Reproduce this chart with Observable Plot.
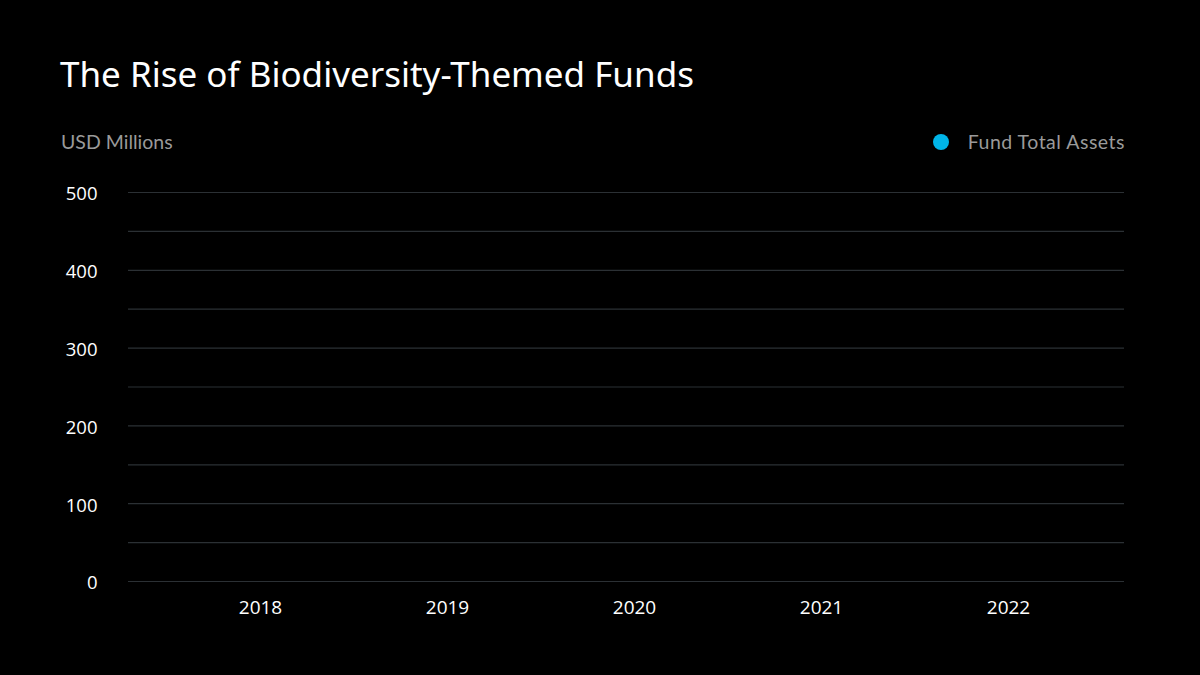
<!DOCTYPE html>
<html>
<head>
<meta charset="utf-8">
<script src="https://cdn.jsdelivr.net/npm/d3@7"></script>
<script src="https://cdn.jsdelivr.net/npm/@observablehq/plot@0.6"></script>
<style>
  html, body { margin: 0; padding: 0; background: #000; }
  #wrap { position: relative; width: 1200px; height: 675px; background: #000; overflow: hidden; }
  #header { position: relative; width: 1200px; height: 170px; }
  #title { position: absolute; left: 60px; top: 50px; font-family: "Noto Sans", sans-serif; font-size: 35px; color: #fff; font-weight: 400; white-space: nowrap; }
  #unit { position: absolute; left: 61px; top: 130px; font-family: Lato, sans-serif; font-size: 19.5px; color: #9a9a9a; white-space: nowrap; }
  #legend { position: absolute; right: 75px; top: 130px; font-family: Lato, sans-serif; font-size: 19.5px; letter-spacing: 0.5px; color: #9a9a9a; white-space: nowrap; display: flex; align-items: center; }
  #legend .dot { display: inline-block; width: 16px; height: 16px; border-radius: 50%; margin-right: 19px; }
</style>
</head>
<body>
<div id="wrap">
  <div id="header">
    <div id="title">The Rise of Biodiversity-Themed Funds</div>
    <div id="unit">USD Millions</div>
    <div id="legend"><span class="dot" id="legendDot"></span><span id="legendLabel"></span></div>
  </div>
  <div id="chart"></div>
</div>
<script>
// Data (bars not visible in the reference: values read as 0)
const years = ["2018", "2019", "2020", "2021", "2022"];
const fundTotalAssets = [0, 0, 0, 0, 0];
const seriesName = "Fund Total Assets";
const seriesColor = "#00b5e8";
const yTicks = [0, 100, 200, 300, 400, 500];
const gridValues = [0, 50, 100, 150, 200, 250, 300, 350, 400, 450, 500];

document.getElementById("legendDot").style.background = seriesColor;
document.getElementById("legendLabel").textContent = seriesName;

const data = years.map((y, i) => ({year: y, value: fundTotalAssets[i]}));

const chart = Plot.plot({
  width: 1200,
  height: 461,
  marginLeft: 128,
  marginRight: 76,
  marginTop: 22,
  marginBottom: 50,
  style: {background: "#000", color: "#fff", fontFamily: "'Open Sans', sans-serif", fontSize: "18px"},
  x: {type: "band", domain: years, insetLeft: 38, insetRight: 21, paddingInner: 0.4, paddingOuter: 0.2, label: null},
  y: {domain: [0, 500], label: null},
  marks: [
    Plot.ruleY(gridValues, {stroke: "#2b3034", strokeWidth: 1.2}),
    Plot.barY(data, {x: "year", y: "value", fill: seriesColor}),
    Plot.axisY({ticks: yTicks, tickSize: 0, tickPadding: 31, fontSize: 18.5, fill: "#fff", dy: 2, label: null}),
    Plot.axisX({tickSize: 0, tickPadding: 19, fontSize: 19, fill: "#fff", label: null})
  ]
});
document.getElementById("chart").appendChild(chart);
</script>
</body>
</html>
